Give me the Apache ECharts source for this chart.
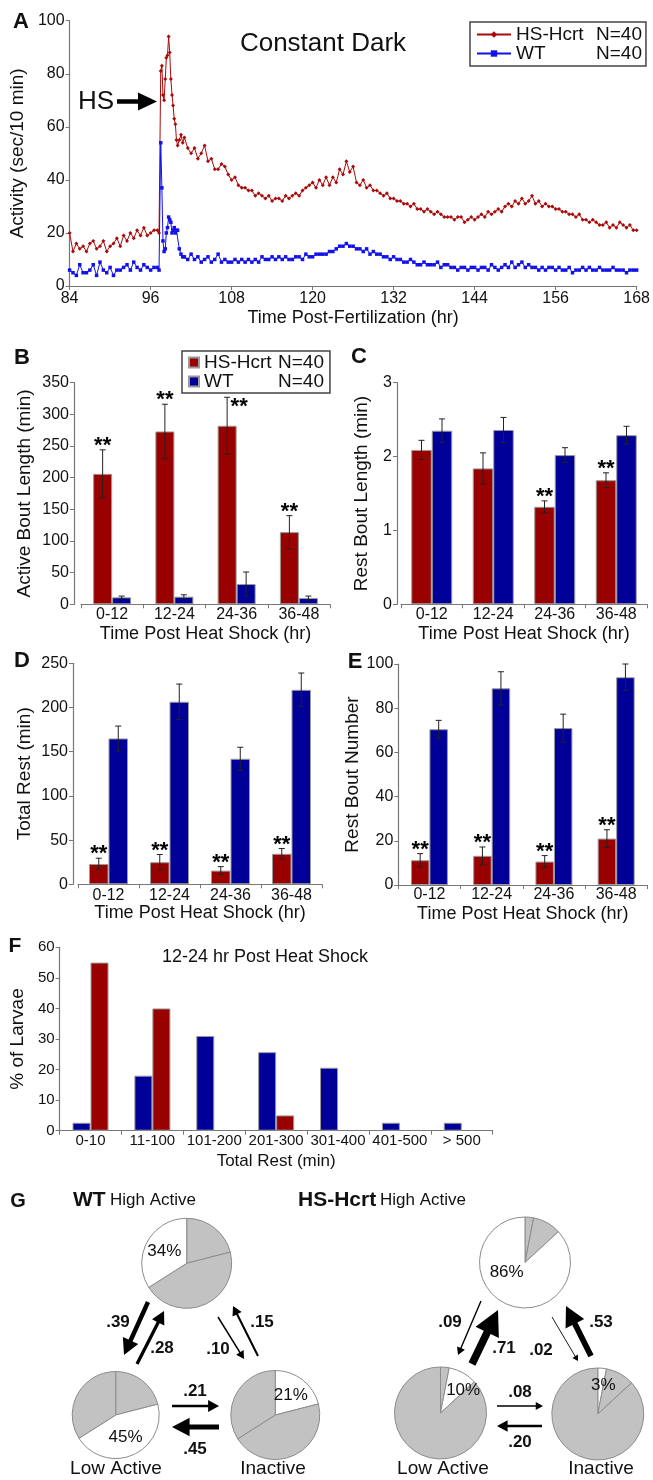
<!DOCTYPE html>
<html>
<head>
<meta charset="utf-8">
<title>HS-Hcrt activity</title>
<script src="https://cdn.jsdelivr.net/npm/echarts@6/dist/echarts.min.js"></script>
<style>
html, body { margin: 0; padding: 0; background: #fff; }
#main { width: 653px; height: 1480px; }
</style>
</head>
<body>
<div id="main"></div>
<script>
var FONT = '"Liberation Sans", Arial, Helvetica, sans-serif';
var NARROW = '"Liberation Sans Narrow", "Liberation Sans", Arial, sans-serif';
var RED = '#990000', BLUE = '#000099';
var LINE_RED = '#aa0a0a', LINE_BLUE = '#1212e8';
var nHs = 40, nWt = 40;

// A - activity (sec/10 min), half hour samples, finer around the heat shock
var preRed  = [20, 13, 16, 14, 15, 13, 16, 17, 14, 15, 17, 13, 15, 16, 18, 15, 19, 17, 20, 18, 21, 19, 22, 19, 20, 21];
var preBlue = [6, 5, 4, 8, 5, 5, 6, 8, 4, 9, 6, 5, 7, 4, 6, 6, 7, 8, 6, 9, 7, 6, 8, 7, 6, 7];
var spikeTimes = [97, 97.25, 97.5, 97.67, 97.83, 98, 98.17, 98.33, 98.5, 98.67, 98.83,
                  99, 99.17, 99.33, 99.5, 99.67, 99.83, 100, 100.25, 100.5, 100.75];
var spikeRed  = [21, 20, 81, 83, 72, 70, 78, 86, 87, 94, 88, 78, 72, 68, 63, 61, 55, 53, 55, 57, 54];
var spikeBlue = [7, 6, 54, 37, 17, 13, 14, 20, 22, 26, 25, 24, 20, 21, 22, 20, 21, 21, 14, 12, 11];
var postRed = [
    56, 52, 50, 52, 48, 50, 53, 47, 48, 44,
    44, 46, 45, 42, 40, 41, 38, 37, 37, 36,
    36, 34, 35, 34, 33, 34, 32, 33, 33, 32,
    34, 33, 34, 35, 34, 36, 37, 38, 39, 37,
    40, 38, 41, 38, 41, 39, 44, 42, 47, 43,
    45, 39, 38, 40, 37, 38, 36, 36, 35, 34,
    35, 33, 33, 32, 32, 31, 31, 30, 31, 29,
    29, 28, 29, 28, 27, 28, 27, 26, 26, 26,
    25, 26, 26, 24, 25, 26, 25, 26, 27, 26,
    28, 27, 28, 29, 28, 30, 31, 30, 32, 31,
    33, 31, 32, 34, 31, 32, 30, 31, 30, 30,
    29, 29, 28, 28, 27, 27, 26, 27, 25, 25,
    24, 25, 24, 23, 23, 24, 22, 23, 22, 24,
    23, 22, 23, 21, 21];
var postBlue = [
    11, 10, 12, 10, 11, 9, 10, 11, 9, 10,
    12, 9, 10, 9, 9, 10, 9, 10, 9, 10,
    9, 10, 9, 11, 10, 10, 11, 10, 11, 10,
    11, 10, 10, 11, 11, 10, 12, 11, 11, 12,
    12, 12, 12, 13, 13, 14, 15, 15, 16, 15,
    15, 14, 14, 13, 14, 12, 13, 12, 12, 11,
    11, 10, 11, 10, 10, 9, 9, 10, 9, 8,
    8, 9, 8, 8, 8, 9, 7, 8, 8, 7,
    7, 6, 7, 7, 6, 7, 7, 6, 7, 7,
    6, 8, 7, 6, 7, 8, 7, 9, 7, 8,
    9, 7, 8, 7, 7, 6, 7, 6, 7, 7,
    6, 7, 6, 6, 7, 5, 6, 6, 7, 6,
    7, 6, 6, 7, 6, 6, 6, 7, 6, 6,
    6, 5, 6, 6, 6];

// B-E, means and SEM per 12 h block after heat shock
var periods = ['0-12', '12-24', '24-36', '36-48'];
var activeHs = [206, 273, 282, 114],     activeHsErr = [38, 43, 45, 26];
var activeWt = [11, 12, 32, 10],         activeWtErr = [2, 3, 19, 3];
var restLenHs = [2.09, 1.84, 1.32, 1.68], restLenHsErr = [0.13, 0.21, 0.08, 0.10];
var restLenWt = [2.35, 2.36, 2.02, 2.29], restLenWtErr = [0.16, 0.17, 0.10, 0.12];
var totalHs = [23, 25, 15.5, 34.5],      totalHsErr = [6.5, 8.7, 4.5, 6];
var totalWt = [165, 206.5, 142, 220],    totalWtErr = [14, 20, 13, 19];
var boutsHs = [11.2, 13.2, 10.6, 21],    boutsHsErr = [3, 4, 2.7, 4];
var boutsWt = [70.5, 89, 71, 94],        boutsWtErr = [4, 7.5, 6.3, 6];
// 1 = ** above the bar, 2 = ** beside the error bar (no room under the legend)
var sigB = [1, 1, 2, 1], sigC = [0, 0, 1, 1], sigD = [1, 1, 1, 1], sigE = [1, 1, 1, 1];

// F - distribution of total rest, 12-24 h
var restBins = ['0-10', '11-100', '101-200', '201-300', '301-400', '401-500', '> 500'];
var pctWt = [2.6, 18, 31, 25.7, 20.6, 2.6, 2.6];
var pctHs = [55, 40, 0, 5, 0, 0, 0];

// G - time in each state (%) and transition probabilities
var states = ['Inactive', 'Low Active', 'High Active'];
var wtShare = [21, 45, 34];
var hsShare = [3, 10, 86];
var wtProb = [0.39, 0.28, 0.10, 0.15, 0.21, 0.45];
var hsProb = [0.09, 0.71, 0.02, 0.53, 0.08, 0.20];

function buildTrace(pre, spike, post) {
    var out = [];
    var i;
    for (i = 0; i < pre.length; i++) out.push([84 + i * 0.5, pre[i]]);
    for (i = 0; i < spike.length; i++) out.push([spikeTimes[i], spike[i]]);
    for (i = 0; i < post.length; i++) out.push([101 + i * 0.5, post[i]]);
    return out;
}

function yAxisOf(grid, max, interval, name, gap, offset, fs) {
    return {
        gridIndex: grid, type: 'value', min: 0, max: max, interval: interval, offset: offset || 0,
        name: name, nameLocation: 'middle', nameGap: gap,
        nameTextStyle: { fontSize: 19, color: '#111', fontFamily: FONT },
        axisLine: { show: true, lineStyle: { color: '#777', width: 1.2 } },
        axisTick: { show: true, length: 4, lineStyle: { color: '#777' } },
        axisLabel: { fontSize: fs || 16, color: '#111', margin: 5, fontFamily: FONT },
        splitLine: { show: false }
    };
}

function xCatOf(grid, cats, name, gap, margin, fs, ff) {
    return {
        gridIndex: grid, type: 'category', data: cats,
        name: name, nameLocation: 'middle', nameGap: gap,
        nameTextStyle: { fontSize: fs + 2, color: '#111', fontFamily: ff },
        axisLine: { show: true, lineStyle: { color: '#777', width: 1.2 } },
        axisTick: { show: true, length: 4, interval: 0, lineStyle: { color: '#777' } },
        axisLabel: { fontSize: fs, color: '#111', margin: margin, interval: 0, fontFamily: ff },
        splitLine: { show: false }
    };
}

function errSeries(idx, vals, errs, sig, shift) {
    var data = vals.map(function (v, i) { return [i, v, errs[i], sig ? sig[i] : 0]; });
    return {
        type: 'custom', xAxisIndex: idx, yAxisIndex: idx, silent: true, z: 5,
        encode: { x: 0, y: 1 },
        data: data,
        renderItem: function (params, api) {
            var i = api.value(0), v = api.value(1), e = api.value(2), s = api.value(3);
            var top = api.coord([i, v + e]);
            var bot = api.coord([i, v - e]);
            var x = top[0] + shift;
            var st = { stroke: '#222', lineWidth: 1 };
            var kids = [
                { type: 'line', shape: { x1: x, y1: top[1], x2: x, y2: bot[1] }, style: st },
                { type: 'line', shape: { x1: x - 3, y1: top[1], x2: x + 3, y2: top[1] }, style: st },
                { type: 'line', shape: { x1: x - 3, y1: bot[1], x2: x + 3, y2: bot[1] }, style: st }
            ];
            if (s) {
                kids.push({ type: 'text', x: s === 2 ? x + 12 : x, y: s === 2 ? top[1] + 10 : top[1] - 4,
                    style: { text: '**', font: 'bold 22px ' + FONT, fill: '#000', align: 'center', verticalAlign: 'middle' } });
            }
            return { type: 'group', children: kids };
        }
    };
}

function barPanel(idx, hs, hsErr, wt, wtErr, sig, bw) {
    var bar = function (name, vals, color) {
        return {
            name: name, type: 'bar', xAxisIndex: idx, yAxisIndex: idx, barWidth: bw, barGap: '0%',
            itemStyle: { color: color, borderColor: '#9a9a9a', borderWidth: 1 },
            data: vals
        };
    };
    return [
        bar('HS-Hcrt bars', hs, RED),
        bar('WT bars', wt, BLUE),
        errSeries(idx, hs, hsErr, sig, -bw / 2),
        errSeries(idx, wt, wtErr, null, bw / 2)
    ];
}

// nudge moves the percentage label a little off the slice middle
function pieOf(center, r, shares, hi, nudge) {
    return {
        type: 'pie', center: center, radius: r, startAngle: 90, clockwise: true, silent: true,
        labelLine: { show: false },
        itemStyle: { borderColor: '#8c8c8c', borderWidth: 1 },
        data: shares.map(function (v, i) {
            return {
                name: states[i], value: v,
                itemStyle: { color: i === hi ? '#ffffff' : '#c2c2c2' },
                label: i === hi ?
                    { show: true, position: 'inside', formatter: v + '%', fontSize: 17, color: '#111',
                      fontFamily: FONT, offset: nudge || [0, 0] } :
                    { show: false }
            };
        })
    };
}

function arrowPts(x1, y1, x2, y2, w, L, H) {
    var dx = x2 - x1, dy = y2 - y1, len = Math.sqrt(dx * dx + dy * dy);
    var ux = dx / len, uy = dy / len, nx = -uy, ny = ux;
    var bx = x2 - ux * L, by = y2 - uy * L;
    return [[x1 + nx * w / 2, y1 + ny * w / 2], [bx + nx * w / 2, by + ny * w / 2], [bx + nx * H, by + ny * H],
            [x2, y2], [bx - nx * H, by - ny * H], [bx - nx * w / 2, by - ny * w / 2], [x1 - nx * w / 2, y1 - ny * w / 2]];
}

function txt(s, x, y, size, opts) {
    opts = opts || {};
    return { type: 'text', x: x, y: y, silent: true,
        style: { text: s, font: (opts.bold ? 'bold ' : '') + size + 'px ' + (opts.ff || FONT), fill: '#111',
                 align: opts.align || 'center', verticalAlign: 'middle' } };
}

// arrow layout: tail x,y, tip x,y, label x,y  (order matches wtProb / hsProb)
var wtArrows = [[148, 1302, 124, 1355, 118, 1322], [137, 1364, 164, 1311, 162, 1348],
                [218, 1317, 244, 1359, 218, 1349], [258, 1356, 233, 1306, 262, 1322],
                [172, 1406, 219, 1406, 195, 1391], [219, 1427, 172, 1427, 195, 1449]];
var hsArrows = [[481, 1301, 458, 1355, 450, 1322], [472, 1364, 498, 1310, 504, 1348],
                [552, 1317, 578, 1361, 541, 1350], [591, 1356, 566, 1306, 601, 1322],
                [497, 1406, 543, 1406, 520, 1392], [542, 1426, 497, 1426, 520, 1442]];

var graphics = [];
function addArrows(spots, probs) {
    spots.forEach(function (s, i) {
        var p = probs[i];
        graphics.push({ type: 'polygon', silent: true,
            shape: { points: arrowPts(s[0], s[1], s[2], s[3], 0.5 + 10 * p, 5 + 28 * p, 3 + 14 * p) },
            style: { fill: '#000' } });
        graphics.push(txt(p.toFixed(2).replace(/^0/, ''), s[4], s[5], 17, { bold: true }));
    });
}
addArrows(wtArrows, wtProb);
addArrows(hsArrows, hsProb);

graphics = graphics.concat([
    txt('A', 21, 22, 22, { bold: true }),
    txt('B', 22, 358, 22, { bold: true }),
    txt('C', 359, 357, 22, { bold: true }),
    txt('D', 22, 661, 22, { bold: true }),
    txt('E', 355, 662, 22, { bold: true }),
    txt('F', 15, 946, 21, { bold: true }),
    txt('G', 18, 1201, 20, { bold: true }),
    txt('Constant Dark', 323, 44, 26),
    txt('HS', 96, 102, 26),
    { type: 'polygon', silent: true, shape: { points: arrowPts(117, 101.5, 157, 101.5, 4.5, 19, 9) }, style: { fill: '#000' } },
    txt('12-24 hr Post Heat Shock', 265, 957, 18, { ff: NARROW }),
    txt('WT', 73, 1200, 21, { bold: true, align: 'left' }),
    txt('High Active', 110, 1200, 17, { align: 'left', ff: NARROW }),
    txt('HS-Hcrt', 298, 1200, 21, { bold: true, align: 'left' }),
    txt('High Active', 380, 1200, 17, { align: 'left', ff: NARROW }),
    txt('Low Active', 116, 1469, 19),
    txt('Inactive', 273, 1469, 19),
    txt('Low Active', 443, 1469, 19),
    txt('Inactive', 601, 1469, 19)
]);

function legendOf(names, left, top, width, icon, iw, ih, lh, pad) {
    return {
        data: names, left: left, top: top, orient: 'vertical', icon: icon,
        itemWidth: iw, itemHeight: ih, itemGap: 0, padding: pad,
        borderColor: '#444', borderWidth: 1.5, selectedMode: false,
        formatter: function (name) {
            var label = name.replace(' bars', '');
            return '{a|' + label + '}{b|N=' + (label === 'WT' ? nWt : nHs) + '}';
        },
        textStyle: {
            fontFamily: FONT, fontSize: 19, color: '#111',
            rich: { a: { width: width, fontSize: 19, lineHeight: lh, fontFamily: FONT },
                    b: { fontSize: 19, lineHeight: lh, fontFamily: FONT } }
        }
    };
}

var option = {
    animation: false,
    backgroundColor: '#fff',
    legend: [
        legendOf(['HS-Hcrt', 'WT'], 470, 22, 80, null, 34, 8, 23, [3, 4, 3, 6]),
        legendOf(['HS-Hcrt bars', 'WT bars'], 182, 351, 74, 'rect', 10, 10, 18, [2, 6, 2, 6])
    ],
    grid: [
        { left: 63.5, top: 20.7, width: 584.5, height: 265.3 },
        { left: 81, top: 382.7, width: 249, height: 221.6 },
        { left: 401, top: 382.7, width: 246, height: 221.6 },
        { left: 78, top: 663.3, width: 244, height: 221 },
        { left: 398.3, top: 664, width: 249, height: 221 },
        { left: 57.3, top: 947.3, width: 435.4, height: 183.4 }
    ],
    xAxis: [
        {
            gridIndex: 0, type: 'value', min: 84, max: 168, interval: 12,
            name: 'Time Post-Fertilization (hr)', nameLocation: 'middle', nameGap: 23,
            nameTextStyle: { fontSize: 18, color: '#111', fontFamily: FONT },
            axisLine: { show: true, lineStyle: { color: '#777', width: 1.2 } },
            axisTick: { show: true, length: 4, lineStyle: { color: '#777' } },
            axisLabel: { fontSize: 16, color: '#111', margin: 5, fontFamily: FONT },
            splitLine: { show: false }
        },
        xCatOf(1, periods, 'Time Post Heat Shock (hr)', 21, 2, 16, FONT),
        xCatOf(2, periods, 'Time Post Heat Shock (hr)', 21, 2, 16, FONT),
        xCatOf(3, periods, 'Time Post Heat Shock (hr)', 20, 3, 16, FONT),
        xCatOf(4, periods, 'Time Post Heat Shock (hr)', 20, 2, 16, FONT),
        xCatOf(5, restBins, 'Total Rest (min)', 22, 3, 15, NARROW)
    ],
    yAxis: [
        yAxisOf(0, 100, 20, 'Activity (sec/10 min)', 29, 0, 16),
        yAxisOf(1, 350, 50, 'Active Bout Length (min)', 40, 7, 16),
        yAxisOf(2, 3, 1, 'Rest Bout Length (min)', 26, 4, 16),
        yAxisOf(3, 250, 50, 'Total Rest (min)', 39, 5, 16),
        yAxisOf(4, 100, 20, 'Rest Bout Number', 30, 0, 16),
        yAxisOf(5, 60, 10, '% of Larvae', 22, 0, 15)
    ],
    graphic: graphics,
    series: [
        {
            name: 'HS-Hcrt', type: 'line', xAxisIndex: 0, yAxisIndex: 0,
            symbol: 'diamond', symbolSize: 4, showAllSymbol: true,
            lineStyle: { color: LINE_RED, width: 1 }, itemStyle: { color: LINE_RED },
            data: buildTrace(preRed, spikeRed, postRed)
        },
        {
            name: 'WT', type: 'line', xAxisIndex: 0, yAxisIndex: 0,
            symbol: 'rect', symbolSize: 3.5, showAllSymbol: true,
            lineStyle: { color: LINE_BLUE, width: 1 }, itemStyle: { color: LINE_BLUE },
            data: buildTrace(preBlue, spikeBlue, postBlue)
        }
    ]
    .concat(barPanel(1, activeHs, activeHsErr, activeWt, activeWtErr, sigB, 19))
    .concat(barPanel(2, restLenHs, restLenHsErr, restLenWt, restLenWtErr, sigC, 20.5))
    .concat(barPanel(3, totalHs, totalHsErr, totalWt, totalWtErr, sigD, 19.5))
    .concat(barPanel(4, boutsHs, boutsHsErr, boutsWt, boutsWtErr, sigE, 18.5))
    .concat([
        {
            name: 'WT bars', type: 'bar', xAxisIndex: 5, yAxisIndex: 5, barWidth: 18, barGap: '0%',
            itemStyle: { color: BLUE, borderColor: '#9a9a9a', borderWidth: 1 },
            data: pctWt.map(function (v) { return v > 0 ? v : '-'; })
        },
        {
            name: 'HS-Hcrt bars', type: 'bar', xAxisIndex: 5, yAxisIndex: 5, barWidth: 18, barGap: '0%',
            itemStyle: { color: RED, borderColor: '#9a9a9a', borderWidth: 1 },
            data: pctHs.map(function (v) { return v > 0 ? v : '-'; })
        },
        pieOf([186.7, 1263.3], 45, wtShare, 2),
        pieOf([115.7, 1415], 43.5, wtShare, 1),
        pieOf([275.3, 1415], 44.5, wtShare, 0),
        pieOf([525, 1262.5], 45.5, hsShare, 2, [-8, -14]),
        pieOf([440.5, 1413], 46, hsShare, 1, [10, 0]),
        pieOf([597.8, 1414], 46, hsShare, 0, [3, -3])
    ])
};

var myChart = echarts.init(document.getElementById('main'), null, { renderer: 'canvas' });
myChart.setOption(option);
</script>
</body>
</html>
